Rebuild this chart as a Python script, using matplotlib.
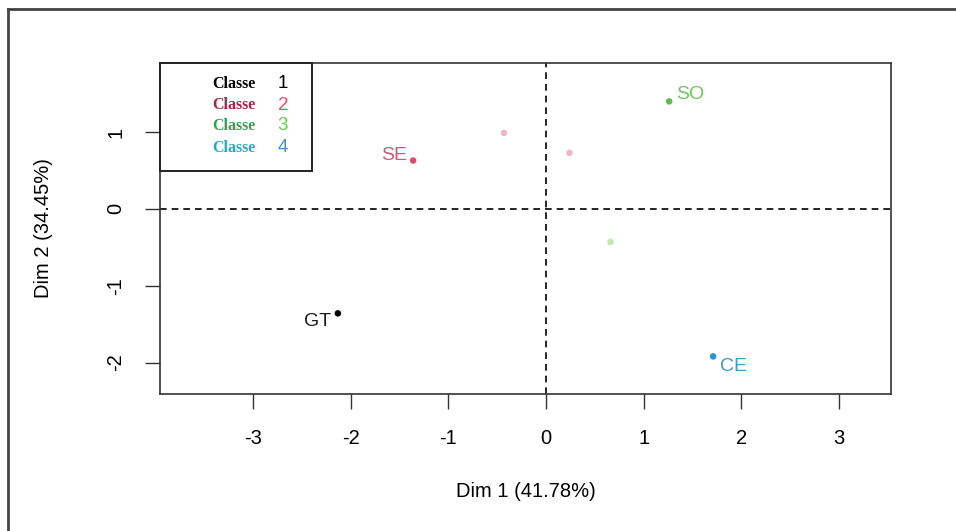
import matplotlib
matplotlib.use("Agg")
import matplotlib.pyplot as plt
from matplotlib.lines import Line2D
from matplotlib.patches import Rectangle

plt.rcParams['font.family'] = ['Liberation Sans', 'DejaVu Sans']
plt.rcParams['axes.unicode_minus'] = False

# individuals (labelled)
names = ['GT', 'SE', 'SO', 'CE']
dim1 = [-2.13, -1.36, 1.26, 1.71]
dim2 = [-1.36, 0.63, 1.40, -1.92]
label_x = [-2.34, -1.55, 1.48, 1.92]
label_y = [-1.47, 0.70, 1.49, -2.05]
point_colors = ['#000000', '#D4506C', '#5DBB4C', '#2494D8']
text_colors = ['#1a1a1a', '#C95C78', '#6CC85A', '#3C9CCF']

# faded extra points
extra_x = [-0.43, 0.24, 0.66]
extra_y = [0.99, 0.73, -0.43]
extra_colors = ['#EBB8C6', '#EBB8C6', '#BDE8B2']

# legend
classes = ['1', '2', '3', '4']
classe_colors = ['#000000', '#9A2A48', '#3A9E55', '#2AA6C8']
num_colors = ['#000000', '#DF536B', '#61D04F', '#3A8FD8']

W, H = 956, 531
fig = plt.figure(figsize=(W / 100, H / 100), dpi=100)
ax = fig.add_axes([160 / W, 1 - 394 / H, (891 - 160) / W, (394 - 63) / H])

ax.axvline(0, color='black', ls=(0, (4, 3)), lw=1.2, zorder=1)
ax.axhline(0, color='black', ls=(0, (4, 3)), lw=1.2, zorder=1)

ax.scatter(extra_x, extra_y, s=22, c=extra_colors, edgecolors='none', zorder=2)
ax.scatter(dim1, dim2, s=22, c=point_colors, edgecolors='none', zorder=3)
for n, x, y, c in zip(names, label_x, label_y, text_colors):
    ax.text(x, y, n, color=c, fontsize=14, ha='center', va='center', zorder=4)

ax.set_xlim(-3.95, 3.53)
ax.set_ylim(-2.41, 1.90)
ax.set_xticks([-3, -2, -1, 0, 1, 2, 3])
ax.set_yticks([-2, -1, 0, 1])
ax.tick_params(axis='both', length=11, width=1, color='#333333', labelsize=14.5)
ax.tick_params(axis='x', pad=14)
ax.tick_params(axis='y', pad=14)
for lab in ax.get_yticklabels():
    lab.set_rotation(90)
    lab.set_va('center')
for s in ax.spines.values():
    s.set_color('#333333')
    s.set_linewidth(1.2)

ax.set_xlabel('Dim 1 (41.78%)', fontsize=14.5, labelpad=25)
ax.set_ylabel('Dim 2 (34.45%)', fontsize=14.5, labelpad=38)

# legend box
lx0, ly0, lx1, ly1 = 160, 63, 312, 171
fig.add_artist(Rectangle((lx0 / W, 1 - ly1 / H), (lx1 - lx0) / W, (ly1 - ly0) / H,
                         transform=fig.transFigure, fill=True, facecolor='white',
                         edgecolor='#222222', lw=1.4, zorder=5))
rows_y = [84, 105, 126, 148]
for cl, yy, c1, c2 in zip(classes, rows_y, classe_colors, num_colors):
    fig.text(256 / W, 1 - yy / H, 'Classe', family='Liberation Serif', weight='bold',
             fontsize=11.5, color=c1, ha='right', va='center', zorder=6)
    fig.text(283 / W, 1 - yy / H, cl, fontsize=13.5, color=c2, ha='center', va='center', zorder=6)

# outer frame
fig.add_artist(Line2D([8 / W, 8 / W], [0, 1 - 9 / H], transform=fig.transFigure,
                      color='#444444', lw=2))
fig.add_artist(Line2D([8 / W, 1], [1 - 9 / H, 1 - 9 / H], transform=fig.transFigure,
                      color='#444444', lw=2))

fig.savefig('out.png', dpi=100)
